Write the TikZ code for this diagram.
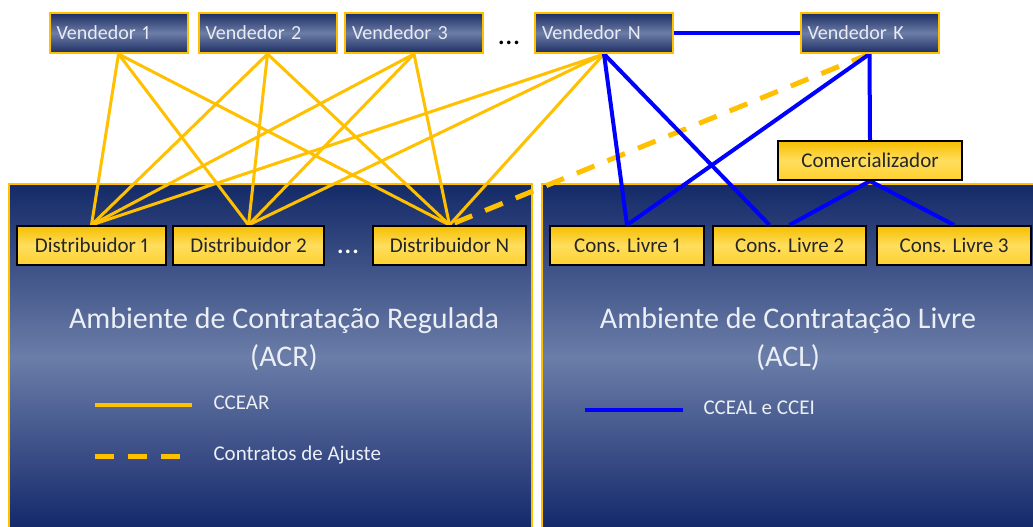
\documentclass[tikz,border=0pt]{standalone}
\usepackage{fontspec}
\setmainfont[Numbers=Proportional]{Carlito}
\usetikzlibrary{calc}
\definecolor{gold}{HTML}{FFC000}
\definecolor{navy}{HTML}{13286A}
\definecolor{paneltop}{HTML}{142A68}
\definecolor{panelmid}{HTML}{6B7DA8}
\definecolor{vdark}{HTML}{1C2D63}
\definecolor{vmid}{HTML}{6C7DA7}
\definecolor{vtext}{HTML}{E8EBF3}
\definecolor{ytop}{HTML}{F7BE00}
\definecolor{ymid}{HTML}{FFDE5E}
\definecolor{ybot}{HTML}{FFD02E}
\definecolor{pureblue}{HTML}{0000FF}
\definecolor{ltext}{HTML}{ECEFF6}
\pgfdeclarelayer{bg}
\pgfdeclarelayer{lines}
\pgfsetlayers{bg,lines,main}
\tikzset{
  panel/.style={draw=gold, line width=2pt, top color=paneltop, bottom color=navy, middle color=panelmid},
  vendbox/.style={draw=gold, line width=2pt, top color=vdark, bottom color=vdark, middle color=vmid,
    text=vtext, font=\fontsize{20}{20}\selectfont, minimum height=40pt, text width=124pt, align=left, inner xsep=7pt, inner ysep=0pt},
  ybox/.style={draw=black, line width=2pt, top color=ytop, bottom color=ybot, middle color=ymid,
    text=black!85, font=\fontsize{21}{21}\selectfont, minimum height=39pt, inner sep=0pt},
  ccear/.style={draw=gold, line width=3pt},
  ajuste/.style={draw=gold, line width=5pt, dash pattern=on 19pt off 14pt},
  livre/.style={draw=pureblue, line width=4pt},
  title/.style={text=ltext, font=\fontsize{30}{38}\selectfont, align=center},
  legtext/.style={text=ltext, font=\fontsize{21}{21}\selectfont, anchor=west}
}
\begin{document}
\begin{tikzpicture}[x=1pt,y=-1pt]
\useasboundingbox (0,0) rectangle (1033,527);
\begin{pgfonlayer}{bg}
  \fill[white] (0,0) rectangle (1033,527);
  \path[panel] (9,184) rectangle (532,530);
  \path[panel] (542,184) rectangle (1045,530);
\end{pgfonlayer}

% vendors
\node[vendbox] (v1) at (118.5,33) {Vendedor 1};
\node[vendbox] (v2) at (267.5,33) {Vendedor 2};
\node[vendbox] (v3) at (414,33) {Vendedor 3};
\node[vendbox] (vn) at (604,33) {Vendedor N};
\node[vendbox] (vk) at (869.5,33) {Vendedor K};
\node[font=\fontsize{30}{30}\selectfont, text=black] (dots1) at (509,43) {...};

% distributors
\node[ybox, minimum width=149pt] (d1) at (91.5,245.5) {Distribuidor 1};
\node[ybox, minimum width=151pt] (d2) at (248.5,245.5) {Distribuidor 2};
\node[ybox, minimum width=153pt] (dn) at (449.5,245.5) {Distribuidor N};
\node[font=\fontsize{30}{30}\selectfont, text=white] (dots2) at (348,252) {...};

% free consumers
\node[ybox, minimum width=184pt] (com) at (870,160.5) {Comercializador};
\node[ybox, minimum width=154pt] (cl1) at (627,245.5) {Cons. Livre 1};
\node[ybox, minimum width=153pt] (cl2) at (789.5,245.5) {Cons. Livre 2};
\node[ybox, minimum width=154pt] (cl3) at (954,245.5) {Cons. Livre 3};

% titles
\node[title] (acr) at (284,339) {Ambiente de Contratação Regulada\\(ACR)};
\node[title] (acl) at (788,339) {Ambiente de Contratação Livre\\(ACL)};

% legend
\coordinate (la1) at (95,405);
\coordinate (la2) at (192,405);
\coordinate (lb1) at (95,456);
\coordinate (lb2) at (185,456);
\coordinate (lc1) at (585,410);
\coordinate (lc2) at (683,410);
\node[legtext] (t1) at (210,403) {CCEAR};
\node[legtext] (t2) at (210,455) {Contratos de Ajuste};
\node[legtext] (t3) at (700,408) {CCEAL e CCEI};

\begin{pgfonlayer}{lines}
  \foreach \v in {v1,v2,v3,vn} {
    \foreach \d in {d1,d2,dn} {
      \draw[ccear] (\v.south) -- (\d.north);
    }
  }
  \draw[ajuste] (vk.south) -- (dn.north);
  \draw[livre] (vn.east) -- (vk.west);
  \draw[livre] (vn.south) -- (cl1.north);
  \draw[livre] (vn.south) -- ([xshift=-20pt]cl2.north);
  \draw[livre] (vk.south) -- (cl1.north);
  \draw[livre] (vk.south) -- (com.north);
  \draw[livre] (com.south) -- (cl2.north);
  \draw[livre] (com.south) -- (cl3.north);
  \draw[draw=gold, line width=4pt] (la1) -- (la2);
  \draw[ajuste] (lb1) -- (lb2);
  \draw[livre] (lc1) -- (lc2);
\end{pgfonlayer}
\end{tikzpicture}
\end{document}
